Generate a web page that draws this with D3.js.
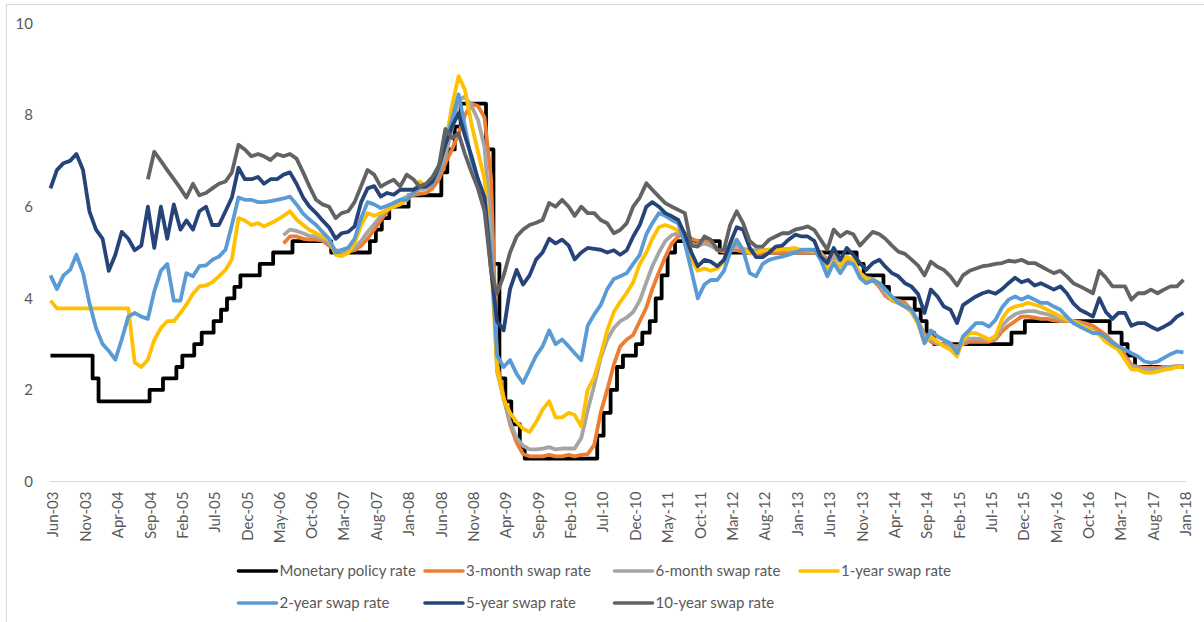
<!DOCTYPE html>
<html>
<head>
<meta charset="utf-8">
<script src="https://cdnjs.cloudflare.com/ajax/libs/d3/7.8.5/d3.min.js"></script>
<style>
  body { margin: 0; background: #fff; }
  svg text { font-family: Lato, "Open Sans", sans-serif; fill: #595959; }
</style>
</head>
<body>
<svg id="chart" width="1204" height="622"></svg>
<script>
// x axis labels, one every 5 months
var tickLabels = ["Jun-03","Nov-03","Apr-04","Sep-04","Feb-05","Jul-05","Dec-05","May-06","Oct-06","Mar-07",
  "Aug-07","Jan-08","Jun-08","Nov-08","Apr-09","Sep-09","Feb-10","Jul-10","Dec-10","May-11","Oct-11","Mar-12",
  "Aug-12","Jan-13","Jun-13","Nov-13","Apr-14","Sep-14","Feb-15","Jul-15","Dec-15","May-16","Oct-16","Mar-17",
  "Aug-17","Jan-18"];
var yTicks = [0, 2, 4, 6, 8, 10];

// monetary policy rate: date of each change and the new rate
var policyDates = ["2003-06-01","2003-12-16","2004-01-13","2004-09-09","2004-11-11","2005-01-13","2005-02-10",
  "2005-04-07","2005-05-12","2005-07-07","2005-08-11","2005-09-08","2005-10-13","2005-11-10","2006-02-09",
  "2006-04-13","2006-07-13","2007-01-11","2007-07-12","2007-08-09","2007-09-06","2007-10-11","2008-01-10",
  "2008-06-12","2008-07-10","2008-08-14","2008-09-11","2009-01-08","2009-02-12","2009-03-12","2009-04-09",
  "2009-05-07","2009-06-16","2009-07-09","2010-06-15","2010-07-15","2010-08-17","2010-09-16","2010-10-14",
  "2010-12-14","2011-01-13","2011-02-17","2011-03-17","2011-04-14","2011-05-12","2011-06-16","2012-01-12",
  "2013-10-17","2013-11-19","2014-02-20","2014-03-18","2014-07-17","2014-08-14","2014-09-11","2014-10-16",
  "2015-10-15","2015-12-17","2017-01-19","2017-03-16","2017-04-13","2017-05-18","2018-01-01"];
var policyRate = [2.75,2.25,1.75,2.0,2.25,2.5,2.75,3.0,3.25,3.5,3.75,4.0,4.25,4.5,4.75,5.0,5.25,5.0,5.25,5.5,
  5.75,6.0,6.25,6.75,7.25,7.75,8.25,7.25,4.75,2.25,1.75,1.25,0.75,0.5,1.0,1.5,2.0,2.5,2.75,3.0,3.25,3.5,4.0,
  4.5,5.0,5.25,5.0,4.75,4.5,4.25,4.0,3.75,3.5,3.25,3.0,3.25,3.5,3.25,3.0,2.75,2.5,2.5];

// swap rates, monthly from Jun-03 to Jan-18 (null = no quote yet)
var swap3m = [
  null,null,null,null,null,null,null,
  null,null,null,null,null,null,null,null,null,null,null,null,
  null,null,null,null,null,null,null,null,null,null,null,null,
  null,null,null,null,null,5.2,5.35,5.35,5.3,5.28,5.28,5.26,
  5.15,5.05,5.0,5.02,5.05,5.15,5.3,5.5,5.7,5.9,6.05,6.12,
  6.2,6.25,6.28,6.3,6.4,6.6,6.95,7.25,7.6,8.0,8.25,8.2,
  7.95,6.6,2.6,1.85,1.25,0.85,0.6,0.55,0.55,0.55,0.58,0.55,
  0.55,0.58,0.55,0.58,0.6,0.8,1.5,2.0,2.55,2.95,3.1,3.2,
  3.5,3.8,4.2,4.57,4.9,5.2,5.35,5.42,5.3,5.25,5.25,5.22,
  5.05,5.02,5.05,5.05,5.02,5.0,5.0,5.0,5.0,5.0,5.0,5.0,
  5.0,5.0,5.0,5.0,4.98,4.85,4.95,4.88,4.85,4.75,4.55,4.45,
  4.4,4.25,4.05,3.98,3.95,3.9,3.75,3.5,3.22,3.05,3.0,3.0,
  2.98,2.95,3.0,3.05,3.05,3.05,3.05,3.1,3.28,3.4,3.5,3.6,
  3.6,3.58,3.55,3.55,3.52,3.5,3.5,3.5,3.48,3.45,3.4,3.3,
  3.2,3.05,2.95,2.75,2.55,2.5,2.48,2.48,2.48,2.5,2.5,2.52,
  2.52];
var swap6m = [
  null,null,null,null,null,null,null,
  null,null,null,null,null,null,null,null,null,null,null,null,
  null,null,null,null,null,null,null,null,null,null,null,null,
  null,null,null,null,null,5.38,5.5,5.47,5.42,5.36,5.35,5.3,
  5.22,5.05,5.02,5.05,5.1,5.25,5.45,5.62,5.8,5.95,6.08,6.15,
  6.22,6.3,6.37,6.4,6.5,6.75,7.1,7.7,8.33,8.4,8.2,7.9,
  7.3,5.5,2.4,1.8,1.3,0.95,0.78,0.7,0.7,0.72,0.75,0.7,
  0.72,0.72,0.72,0.95,1.55,2.1,2.7,3.1,3.35,3.5,3.58,3.7,
  3.95,4.35,4.7,5.0,5.25,5.38,5.42,5.42,5.2,5.15,5.2,5.15,
  5.05,5.05,5.12,5.15,5.08,5.05,5.05,5.05,5.06,5.05,5.05,5.06,
  5.05,5.05,5.03,5.02,5.0,4.75,4.9,4.8,4.9,4.8,4.55,4.45,
  4.42,4.3,4.1,3.95,3.9,3.85,3.72,3.5,3.15,3.1,3.02,2.98,
  2.95,2.88,3.05,3.12,3.12,3.1,3.08,3.12,3.4,3.55,3.65,3.7,
  3.72,3.72,3.68,3.65,3.6,3.55,3.52,3.5,3.45,3.38,3.3,3.22,
  3.1,2.98,2.88,2.7,2.52,2.48,2.45,2.45,2.45,2.48,2.5,2.52,
  2.52];
var swap1y = [
  3.95,3.78,3.78,3.78,3.78,3.78,3.78,
  3.78,3.78,3.78,3.78,3.78,3.78,2.6,2.5,2.66,3.09,3.35,3.5,
  3.5,3.68,3.86,4.1,4.26,4.28,4.35,4.48,4.62,4.85,5.75,5.7,
  5.6,5.64,5.57,5.64,5.71,5.8,5.9,5.72,5.6,5.49,5.42,5.35,
  5.28,4.95,4.92,4.99,5.2,5.6,5.86,5.8,5.86,5.93,6.0,6.05,
  6.15,6.3,6.55,6.44,6.5,6.85,7.35,8.2,8.85,8.55,7.8,7.2,
  6.6,4.8,2.45,1.8,1.5,1.3,1.15,1.08,1.3,1.57,1.75,1.4,
  1.4,1.5,1.45,1.2,2.0,2.28,2.75,3.3,3.7,3.92,4.12,4.35,
  4.75,5.0,5.3,5.55,5.6,5.55,5.47,5.42,4.84,4.6,4.65,4.6,
  4.65,4.8,5.13,5.28,5.06,4.99,4.99,5.04,5.06,5.06,5.08,5.08,
  5.1,5.05,5.05,5.02,4.95,4.6,4.8,4.69,4.9,4.84,4.55,4.42,
  4.4,4.33,4.19,3.97,3.9,3.82,3.7,3.45,3.02,3.17,3.05,2.95,
  2.88,2.73,3.09,3.24,3.24,3.17,3.1,3.17,3.55,3.75,3.82,3.85,
  3.9,3.86,3.82,3.75,3.68,3.6,3.53,3.5,3.42,3.35,3.28,3.2,
  3.05,2.95,2.88,2.66,2.45,2.44,2.38,2.37,2.4,2.44,2.46,2.5,
  2.5];
var swap2y = [
  4.5,4.2,4.5,4.62,4.95,4.55,3.9,
  3.35,3.0,2.85,2.66,3.1,3.6,3.68,3.6,3.55,4.15,4.6,4.75,
  3.95,3.95,4.55,4.48,4.7,4.72,4.84,4.91,5.06,5.6,6.2,6.15,
  6.15,6.1,6.1,6.12,6.15,6.18,6.22,6.05,5.85,5.72,5.6,5.45,
  5.3,5.0,5.06,5.1,5.3,5.75,6.1,6.05,5.97,6.02,6.08,6.15,
  6.15,6.3,6.44,6.44,6.5,6.8,7.4,7.9,8.45,7.75,7.0,6.6,
  6.2,5.0,2.75,2.5,2.65,2.35,2.15,2.45,2.75,2.95,3.3,3.0,
  3.1,2.95,2.8,2.65,3.4,3.65,3.85,4.2,4.42,4.48,4.55,4.75,
  4.95,5.4,5.64,5.86,5.8,5.71,5.64,5.2,4.6,4.0,4.3,4.4,
  4.4,4.6,5.0,5.28,5.05,4.55,4.48,4.75,4.84,4.88,4.91,4.95,
  5.0,5.06,5.06,5.06,4.84,4.48,4.77,4.55,4.77,4.75,4.45,4.33,
  4.4,4.33,4.19,4.04,3.9,3.82,3.75,3.5,3.02,3.3,3.17,3.09,
  3.02,2.8,3.17,3.31,3.46,3.46,3.38,3.53,3.8,3.97,4.04,3.97,
  4.04,3.97,3.9,3.9,3.82,3.75,3.6,3.46,3.38,3.31,3.24,3.24,
  3.15,3.02,2.95,2.88,2.8,2.73,2.62,2.59,2.62,2.7,2.78,2.84,
  2.82];
var swap5y = [
  6.4,6.8,6.95,7.0,7.15,6.8,5.9,
  5.5,5.3,4.6,4.95,5.45,5.3,5.05,5.15,6.0,5.1,6.0,5.3,
  6.05,5.5,5.7,5.5,5.9,6.0,5.6,5.6,5.9,6.2,6.85,6.6,
  6.6,6.65,6.5,6.6,6.6,6.7,6.75,6.5,6.2,6.0,5.86,5.7,
  5.55,5.3,5.42,5.45,5.57,6.1,6.4,6.45,6.22,6.3,6.26,6.37,
  6.37,6.37,6.44,6.44,6.55,6.9,7.35,7.75,8.04,7.55,7.1,6.6,
  6.2,4.6,3.5,3.3,4.2,4.62,4.3,4.5,4.85,5.0,5.3,5.2,
  5.28,5.15,4.85,5.0,5.1,5.08,5.06,5.0,5.05,4.95,5.05,5.35,
  5.6,6.0,6.1,6.0,5.86,5.79,5.71,5.4,5.0,4.7,4.84,4.8,
  4.7,4.84,5.2,5.55,5.5,5.1,4.9,4.9,5.0,5.13,5.15,5.28,
  5.39,5.35,5.35,5.25,4.91,4.77,5.1,4.84,5.1,4.95,4.77,4.62,
  4.77,4.84,4.69,4.55,4.48,4.33,4.26,4.1,3.68,4.19,4.04,3.82,
  3.75,3.46,3.85,3.95,4.04,4.11,4.15,4.1,4.2,4.33,4.45,4.35,
  4.4,4.28,4.33,4.26,4.19,4.26,4.11,3.89,3.75,3.68,3.6,4.0,
  3.7,3.55,3.68,3.68,3.4,3.46,3.46,3.38,3.31,3.38,3.46,3.6,
  3.68];
var swap10y = [
  null,null,null,null,null,null,null,
  null,null,null,null,null,null,null,null,6.6,7.2,7.0,6.8,
  6.6,6.4,6.2,6.5,6.25,6.3,6.4,6.5,6.55,6.75,7.35,7.25,
  7.1,7.15,7.1,7.02,7.15,7.1,7.15,7.05,6.75,6.44,6.15,6.05,
  6.0,5.75,5.86,5.9,6.1,6.45,6.8,6.7,6.44,6.52,6.59,6.44,
  6.7,6.6,6.44,6.5,6.65,6.9,7.7,7.5,7.6,7.15,6.75,6.4,
  5.9,4.6,4.1,4.5,5.0,5.35,5.5,5.6,5.65,5.71,6.08,6.0,
  6.15,6.0,5.8,6.0,5.86,5.86,5.71,5.64,5.42,5.49,5.64,6.0,
  6.2,6.51,6.37,6.22,6.08,6.0,5.93,5.86,5.15,5.13,5.35,5.28,
  5.06,5.06,5.6,5.9,5.64,5.25,5.13,5.13,5.28,5.35,5.42,5.42,
  5.5,5.53,5.57,5.49,5.28,5.06,5.5,5.35,5.45,5.4,5.15,5.3,
  5.45,5.4,5.3,5.15,5.02,4.97,4.85,4.72,4.5,4.8,4.69,4.62,
  4.48,4.28,4.5,4.6,4.65,4.7,4.72,4.75,4.77,4.82,4.8,4.84,
  4.77,4.77,4.7,4.62,4.55,4.6,4.48,4.33,4.26,4.19,4.11,4.6,
  4.45,4.26,4.26,4.26,3.97,4.11,4.11,4.19,4.11,4.19,4.26,4.26,
  4.4];

var seriesNames = ["Monetary policy rate", "3-month swap rate", "6-month swap rate", "1-year swap rate",
  "2-year swap rate", "5-year swap rate", "10-year swap rate"];
var seriesColors = ["#000000", "#ED7D31", "#A5A5A5", "#FFC000", "#5B9BD5", "#264478", "#636363"];

function draw_chart() {
  var svg = d3.select("#chart");
  var parseDay = d3.timeParse("%Y-%m-%d");
  var parseTick = d3.timeParse("%b-%y");

  var months = d3.timeMonth.range(new Date(2003, 5, 1), new Date(2018, 1, 1));

  var x = d3.scaleTime()
      .domain([new Date(2003, 5, 1), new Date(2018, 0, 1)])
      .range([50.5, 1183.5]);
  var y = d3.scaleLinear()
      .domain([0, 10])
      .range([481.5, 23.5]);

  // chart frame
  svg.append("rect")
    .attr("x", 6.5).attr("y", 4.5)
    .attr("width", 1220).attr("height", 640)
    .attr("fill", "none")
    .attr("stroke", "#d9d9d9");

  // y axis labels only
  var yAxis = svg.append("g")
    .attr("transform", "translate(50,0)")
    .call(d3.axisLeft(y).tickValues(yTicks).tickSize(0).tickPadding(17));
  yAxis.select(".domain").remove();
  yAxis.selectAll("text")
    .style("font-size", "15px")
    .style("font-family", "Lato, sans-serif")
    .attr("fill", "#595959");

  // x axis line + rotated labels
  svg.append("line")
    .attr("x1", 50).attr("x2", 1186)
    .attr("y1", 481.5).attr("y2", 481.5)
    .attr("stroke", "#d9d9d9")
    .attr("stroke-width", 1);

  var xAxis = svg.append("g")
    .attr("transform", "translate(0,481.5)")
    .call(d3.axisBottom(x)
      .tickValues(tickLabels.map(function(t) { return parseTick(t); }))
      .tickFormat(d3.timeFormat("%b-%y"))
      .tickSize(0));
  xAxis.select(".domain").remove();
  xAxis.selectAll("text")
    .attr("transform", "translate(2,10) rotate(-90)")
    .attr("x", 0).attr("y", 0)
    .attr("dy", "0.35em")
    .attr("text-anchor", "end")
    .style("font-size", "15px")
    .style("font-family", "Lato, sans-serif")
    .attr("fill", "#595959");

  // lines
  var policy = policyDates.map(function(d, i) { return {date: parseDay(d), v: policyRate[i]}; });
  var swaps = [swap3m, swap6m, swap1y, swap2y, swap5y, swap10y].map(function(s) {
    return months.map(function(m, i) { return {date: m, v: s[i]}; });
  });

  var stepLine = d3.line()
      .curve(d3.curveStepAfter)
      .x(function(d) { return x(d.date); })
      .y(function(d) { return y(d.v); });
  var line = d3.line()
      .defined(function(d) { return d.v != null; })
      .x(function(d) { return x(d.date); })
      .y(function(d) { return y(d.v); });

  var plot = svg.append("g").attr("fill", "none")
      .attr("stroke-width", 3.8)
      .attr("stroke-linejoin", "round");

  plot.append("path")
    .attr("d", stepLine(policy))
    .attr("stroke", seriesColors[0]);

  swaps.forEach(function(s, i) {
    plot.append("path")
      .attr("d", line(s))
      .attr("stroke", seriesColors[i + 1]);
  });

  // legend, 4 items on the first row, 3 on the second
  var legX = [238.5, 425, 614.5, 800];
  var legend = svg.append("g");
  seriesNames.forEach(function(name, i) {
    var col = i < 4 ? i : i - 4;
    var row = i < 4 ? 0 : 1;
    var gy = row == 0 ? 571 : 603;
    var g = legend.append("g").attr("transform", "translate(" + legX[col] + "," + gy + ")");
    g.append("line")
      .attr("x1", 0).attr("x2", 38)
      .attr("stroke", seriesColors[i])
      .attr("stroke-width", 3.6)
      .attr("stroke-linecap", "round");
    g.append("text")
      .attr("x", 41)
      .attr("dy", "0.35em")
      .style("font-size", "15px")
      .text(name);
  });
}

draw_chart();
</script>
</body>
</html>
